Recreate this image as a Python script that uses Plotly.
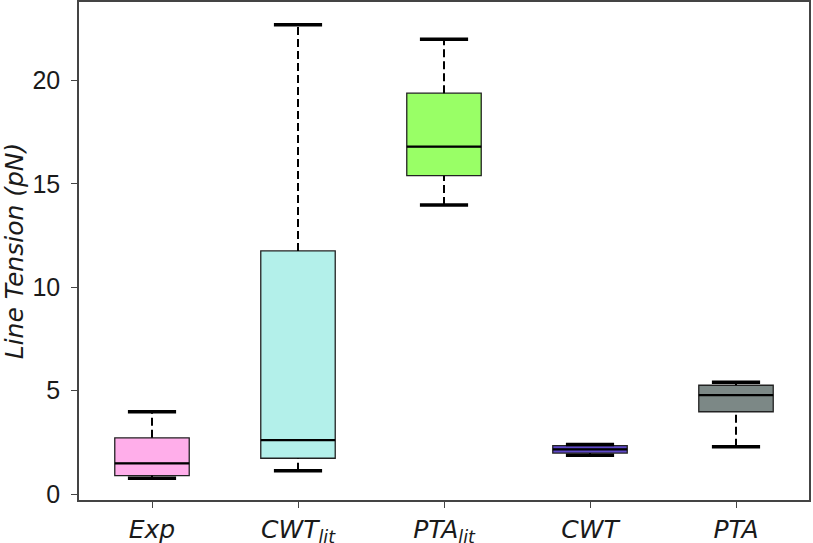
import plotly.graph_objects as go

categories = ["Exp", "CWT<sub>lit</sub>", "PTA<sub>lit</sub>", "CWT", "PTA"]
lower_whisker = [0.76, 1.13, 13.98, 1.87, 2.29]
q1 = [0.89, 1.73, 15.4, 1.98, 3.98]
median = [1.48, 2.61, 16.8, 2.16, 4.78]
q3 = [2.72, 11.76, 19.39, 2.34, 5.26]
upper_whisker = [3.98, 22.7, 22.0, 2.40, 5.40]
colors = ["#FFAEEA", "#B3F0EA", "#99FF66", "#5E48C8", "#7C8886"]

box_half = 0.255
cap_half = 0.165
fig = go.Figure()

xpos = list(range(len(categories)))

for i in xpos:
    fig.add_trace(go.Scatter(x=[i, i, None, i, i], y=[lower_whisker[i], q1[i], None, q3[i], upper_whisker[i]],
                             mode="lines", line=dict(color="black", width=2, dash="8px,4px"),
                             showlegend=False, hoverinfo="skip"))
    fig.add_trace(go.Scatter(x=[i - cap_half, i + cap_half, None, i - cap_half, i + cap_half],
                             y=[lower_whisker[i], lower_whisker[i], None, upper_whisker[i], upper_whisker[i]],
                             mode="lines", line=dict(color="black", width=3.5),
                             showlegend=False, hoverinfo="skip"))

for i in xpos:
    fig.add_trace(go.Box(x=[i], q1=[q1[i]], median=[median[i]], q3=[q3[i]],
                         lowerfence=[q1[i]], upperfence=[q3[i]],
                         fillcolor=colors[i], line=dict(color="#222222", width=1.3),
                         width=2 * box_half, boxpoints=False, showlegend=False))
    fig.add_trace(go.Scatter(x=[i - box_half, i + box_half], y=[median[i], median[i]],
                             mode="lines", line=dict(color="black", width=2.2),
                             showlegend=False, hoverinfo="skip"))

fig.update_layout(
    width=813, height=543,
    margin=dict(l=79, r=4, t=2, b=43, autoexpand=False),
    plot_bgcolor="white", paper_bgcolor="white",
    showlegend=False,
)
fig.update_xaxes(range=[-0.5, 4.5], tickvals=xpos, ticktext=categories, automargin=False,
                 showline=True, linecolor="#444444", linewidth=1.5, mirror=True,
                 ticks="outside", ticklen=6, tickcolor="#444444", showgrid=False, zeroline=False,
                 tickfont=dict(family="DejaVu Sans", size=25, color="#1a1a1a", style="italic"))
fig.update_yaxes(range=[-0.29, 23.8], tickvals=[0, 5, 10, 15, 20], automargin=False,
                 showline=True, linecolor="#444444", linewidth=1.5, mirror=True,
                 ticks="outside", ticklen=6, tickcolor="#444444", showgrid=False, zeroline=False,
                 ticklabelstandoff=6,
                 tickfont=dict(family="Liberation Sans", size=25, color="#1a1a1a"),
                 title=dict(text="Line Tension (pN)", standoff=4,
                            font=dict(family="DejaVu Sans", size=25, color="#1a1a1a", style="italic")))

fig.write_html("out.html", config={"displayModeBar": False},
               post_script="document.body.style.margin='0';")
